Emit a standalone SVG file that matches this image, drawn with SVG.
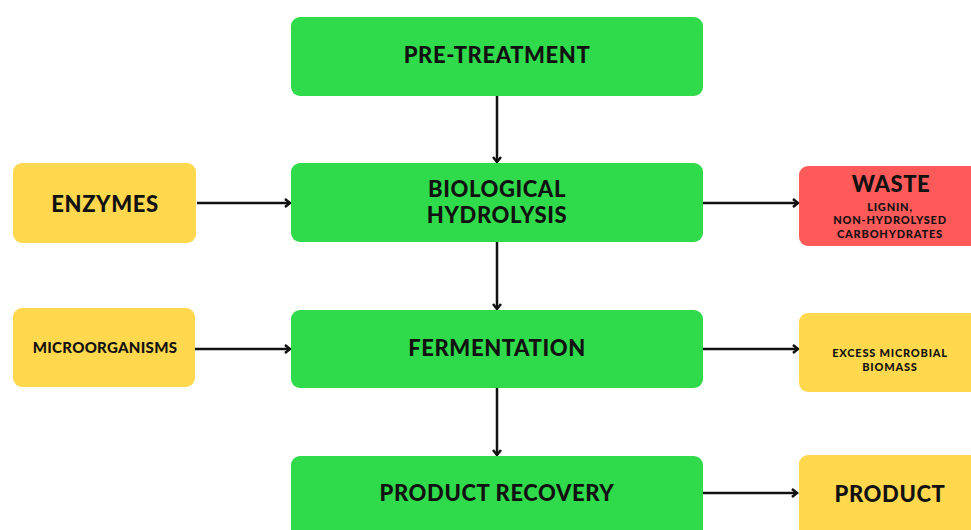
<svg xmlns="http://www.w3.org/2000/svg" width="971" height="530" viewBox="0 0 971 530">
<defs>
<style>
.g{fill:#2FDB4B}
.y{fill:#FFD84D}
.r{fill:#FF5A5A}
text{font-family:Lato,"Liberation Sans",sans-serif;font-weight:900;fill:#111;text-anchor:middle}
.big{font-size:22px;letter-spacing:0.6px}
.sm{font-size:15px;letter-spacing:0.3px}
.xs{font-size:11px;letter-spacing:0.8px}
.c{stroke:#111;stroke-width:2.5;fill:none}
</style>
<marker id="ah" viewBox="0 0 10 10" refX="8" refY="5" markerWidth="10" markerHeight="10" markerUnits="userSpaceOnUse" orient="auto">
<path d="M3,1 L8,5 L3,9" fill="none" stroke="#111" stroke-width="2.5"/>
</marker>
</defs>
<rect width="971" height="530" fill="#fff"/>
<g id="connectors">
<line class="c" x1="497" y1="96" x2="497" y2="162" marker-end="url(#ah)"/>
<line class="c" x1="497" y1="242" x2="497" y2="309" marker-end="url(#ah)"/>
<line class="c" x1="497" y1="388" x2="497" y2="455" marker-end="url(#ah)"/>
<line class="c" x1="197" y1="203" x2="290" y2="203" marker-end="url(#ah)"/>
<line class="c" x1="195" y1="349" x2="290" y2="349" marker-end="url(#ah)"/>
<line class="c" x1="703" y1="203" x2="798" y2="203" marker-end="url(#ah)"/>
<line class="c" x1="703" y1="349" x2="798" y2="349" marker-end="url(#ah)"/>
<line class="c" x1="703" y1="493" x2="797" y2="493" marker-end="url(#ah)"/>
</g>
<g id="pretreatment"><rect class="g" x="291" y="17" width="412" height="79" rx="9"/><text class="big" x="497" y="63">PRE-TREATMENT</text></g>
<g id="hydrolysis"><rect class="g" x="291" y="163" width="412" height="79" rx="9"/><text class="big" x="497" y="197">BIOLOGICAL</text><text class="big" x="497" y="223">HYDROLYSIS</text></g>
<g id="fermentation"><rect class="g" x="291" y="310" width="412" height="78" rx="9"/><text class="big" x="497" y="356">FERMENTATION</text></g>
<g id="recovery"><rect class="g" x="291" y="456" width="412" height="90" rx="9"/><text class="big" x="497" y="501">PRODUCT RECOVERY</text></g>
<g id="enzymes"><rect class="y" x="13" y="163" width="183" height="80" rx="9"/><text class="big" x="105" y="212">ENZYMES</text></g>
<g id="microorganisms"><rect class="y" x="13" y="308" width="182" height="79" rx="9"/><text class="sm" x="105" y="353">MICROORGANISMS</text></g>
<g id="waste"><rect class="r" x="799" y="166" width="183" height="80" rx="9"/><text class="big" x="891" y="192">WASTE</text><text class="xs" x="890" y="211">LIGNIN,</text><text class="xs" x="890" y="224">NON-HYDROLYSED</text><text class="xs" x="890" y="238">CARBOHYDRATES</text></g>
<g id="biomass"><rect class="y" x="799" y="313" width="183" height="79" rx="9"/><text class="xs" x="890" y="357">EXCESS MICROBIAL</text><text class="xs" x="890" y="371">BIOMASS</text></g>
<g id="product"><rect class="y" x="799" y="455" width="183" height="90" rx="9"/><text class="big" x="890" y="502">PRODUCT</text></g>
</svg>
